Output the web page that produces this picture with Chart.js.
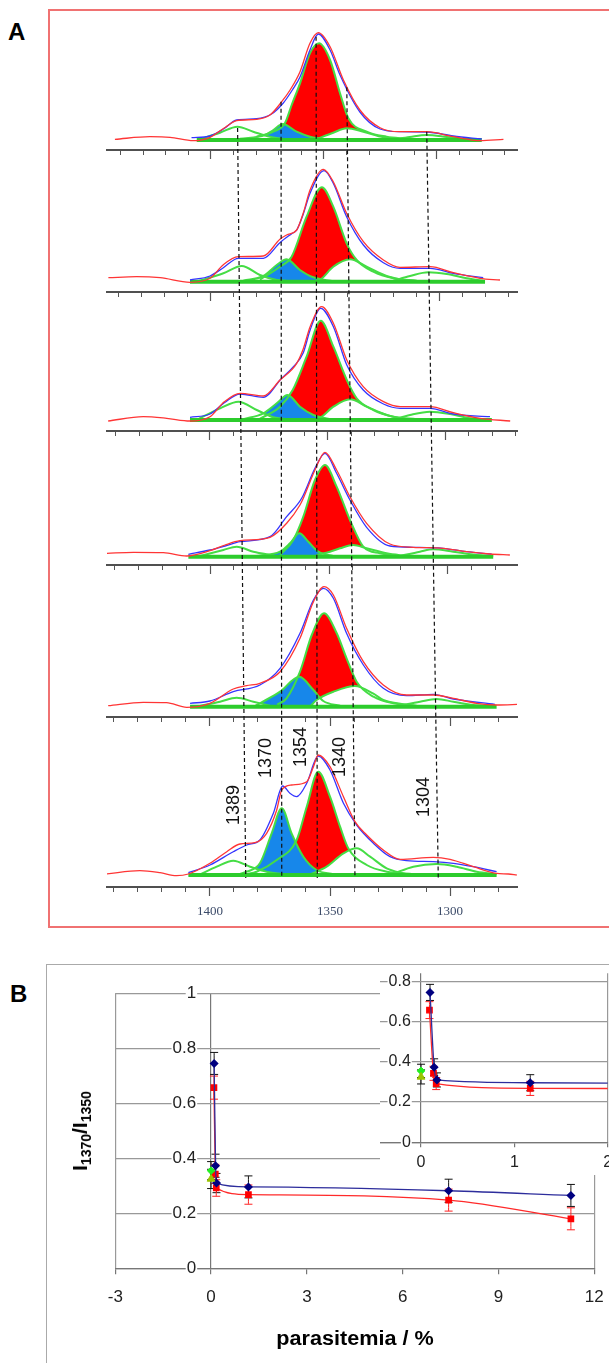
<!DOCTYPE html>
<html>
<head>
<meta charset="utf-8">
<script src="https://cdn.jsdelivr.net/npm/chart.js@4.4.1/dist/chart.umd.min.js"></script>
<style>
  html, body { margin: 0; padding: 0; background: #fff; }
  body { width: 609px; height: 1363px; position: relative; overflow: hidden; font-family: "Liberation Sans", Arial, sans-serif; }
  canvas { position: absolute; }
  .letra { position: absolute; font-weight: bold; font-size: 24px; line-height: 1; }
  .marcoA { position: absolute; left: 48px; top: 9px; width: 640px; height: 919px; border: 2px solid #f07272; box-sizing: border-box; }
  .marcoB { position: absolute; left: 46px; top: 964px; width: 640px; height: 440px; border: 1.5px solid #aaa; box-sizing: border-box; }
  .pico { position: absolute; font-size: 18px; line-height: 1; color: #111; white-space: nowrap; transform: translate(-50%, -50%) rotate(-90deg); }
  .fondoInserto { position: absolute; left: 380px; top: 966px; width: 240px; height: 209px; background: #fff; }
  .tituloY { position: absolute; left: 80px; top: 1131px; font-weight: bold; font-size: 21px; white-space: nowrap; transform: translate(-50%, -50%) rotate(-90deg); }
  .tituloY span { font-size: 14px; position: relative; top: 4px; }
  .tituloX { position: absolute; left: 355px; top: 1338px; font-weight: bold; font-size: 20px; white-space: nowrap; transform: translate(-50%, -50%) scaleX(1.08); }
</style>
</head>
<body>
<div class="marcoA"></div>
<div class="letra" style="left:8px;top:20px">A</div>
<canvas id="graficoEspectros" width="560" height="916" style="left:49px;top:10px"></canvas>
<div class="pico" style="left:233px;top:805px">1389</div>
<div class="pico" style="left:265px;top:758px">1370</div>
<div class="pico" style="left:300px;top:747px">1354</div>
<div class="pico" style="left:339px;top:757px">1340</div>
<div class="pico" style="left:423px;top:797px">1304</div>

<div class="marcoB"></div>
<div class="letra" style="left:10px;top:982px">B</div>
<canvas id="graficoRazon" width="640" height="423" style="left:0px;top:940px"></canvas>
<div class="fondoInserto"></div>
<canvas id="graficoInserto" width="260" height="225" style="left:380px;top:950px"></canvas>
<div class="tituloY">I<span>1370</span>/I<span>1350</span></div>
<div class="tituloX">parasitemia / %</div>

<script>
// ---------- Panel A: espectros (numero de onda cm-1, altura sobre el eje) ----------
// un arreglo de puntos por espectro, de arriba hacia abajo
const crudo = [
    [[1442.5,10.7],[1427,13.3],[1418.1,12.7],[1407.8,9.3],[1400.4,12.7],[1394.5,21.5],[1388.6,29.3],[1379.8,30.7],[1373.9,35],[1368.7,48.3],[1365,60],[1360.6,78.3],[1356.2,106.7],[1352.5,117.3],[1347.3,103.3],[1341.4,70],[1334.1,40],[1325.2,22.3],[1316.4,18.3],[1304.6,18.3],[1292.8,13.3],[1281,9.3],[1270.6,10.7]],
    [[1444.2,14],[1431.9,15],[1421.7,14],[1408.7,9.4],[1400,13.4],[1394.2,27],[1387.7,35],[1376.8,35.7],[1369.6,52.4],[1366.7,56.7],[1362.3,61.7],[1359.4,79],[1356.5,101.7],[1350.7,122.4],[1346.4,110],[1340.6,78.4],[1333.3,50],[1324.6,31.7],[1317.4,24.4],[1304.3,25],[1294.2,19],[1282.6,13.4],[1273.9,11.7]],
    [[1443.3,9.7],[1428.4,14],[1418.4,12.4],[1408.5,9.7],[1400,14],[1393.9,29],[1387.2,37.4],[1377.3,34.7],[1370.2,50.7],[1363.1,67.4],[1360.3,82],[1357.4,104],[1352.5,124],[1347.5,107.4],[1341.8,70.7],[1334.8,44],[1326.2,29],[1319.1,24],[1306.4,24],[1296.5,18],[1285.1,12.4],[1272.3,9.7]],
    [[1443.4,11.7],[1432.2,12.7],[1419.6,12.4],[1409.8,9],[1400,14.3],[1393.7,20],[1387.4,24.3],[1374.8,27.7],[1367.8,41.7],[1362.2,60],[1360.8,66.7],[1355.9,95],[1351.7,112.7],[1346.8,95],[1341.2,68.3],[1334.2,41.7],[1324.4,21],[1314.6,17.7],[1302,16.7],[1292.2,13.3],[1282.4,11],[1274,10]],
    [[1442.4,11],[1427.8,14.4],[1418.1,14],[1409.7,9.4],[1400,13.4],[1390.3,27.7],[1384.7,31],[1379.2,33.4],[1370.8,45],[1362.5,78.4],[1356.9,115],[1352.5,130],[1348.6,121.7],[1343.1,88.4],[1336.1,55],[1327.8,31.7],[1318.1,21.7],[1306.9,21.7],[1298.6,18.4],[1288.9,13.4],[1280.6,11.7],[1270.8,12.4]],
    [[1443.1,12.7],[1429.2,16],[1420.8,14],[1413.9,11],[1409,12.7],[1400,23.4],[1393,35],[1387.5,42.7],[1381.3,44],[1376.4,53.4],[1372.2,76.7],[1370.1,96.7],[1366,101.7],[1359.7,105],[1356.9,120],[1354.9,131.7],[1350,120],[1344.4,90],[1339.6,65],[1334.7,51.7],[1327.8,36.7],[1320.8,27.4],[1306.9,29.4],[1300,27.4],[1290.3,20],[1280.6,13.4],[1275.7,12.7],[1272.2,11.7]]
];

const ajuste = [
    [[1408.6,12.3],[1400.4,14],[1394.5,21],[1388.6,30],[1379.8,31.3],[1373.2,36],[1368,47],[1364,60],[1360.6,73],[1356.2,100],[1352.5,116],[1347.3,100],[1342.9,75],[1334.1,38],[1325.2,21],[1316.4,18.3],[1304.6,18],[1292.8,14],[1280.2,11]],
    [[1408.7,11.7],[1400,15.7],[1394.2,24],[1387.7,33.4],[1376.8,33.4],[1369.6,49],[1364.5,58],[1362.3,61.7],[1359.4,78],[1356.5,98.4],[1350.4,121],[1346.4,108.4],[1340.6,75],[1333.3,46.7],[1324.6,29],[1317.4,23.4],[1304.3,23.4],[1294.2,18.4],[1281.2,14]],
    [[1408.5,13.4],[1400,16.7],[1393.9,28],[1387.2,36.7],[1377.3,33.4],[1369.5,52.4],[1364.5,64],[1360.3,78],[1357.4,100.7],[1352.9,122.4],[1347.5,104],[1341.8,65.7],[1334.8,40.7],[1326.2,26.7],[1319.1,22.4],[1306.4,22.4],[1296.5,16.7],[1280.9,14]],
    [[1409.1,10.7],[1400,15],[1393.7,19],[1387.4,23.3],[1374.8,28.3],[1367.8,48.3],[1361.5,66.7],[1355.9,96.7],[1351.7,111.7],[1346.8,91.7],[1341.2,65],[1334.2,37.7],[1324.4,19],[1314.6,17.7],[1302,16.7],[1292.2,13.3],[1281.7,11]],
    [[1408.3,13.4],[1400,15.7],[1390.3,25],[1379.2,31.7],[1370.8,48.4],[1362.5,83.4],[1356.9,116.7],[1352.8,128.4],[1348.6,118.4],[1343.1,83.4],[1336.1,51.7],[1327.8,28.4],[1318.1,21],[1306.9,22.4],[1298.6,17.7],[1281.3,12.4]],
    [[1409,14],[1400,21.7],[1390.3,35],[1384.7,41.7],[1379.2,46.7],[1373.6,73.4],[1369.7,100.7],[1366.7,93.4],[1363.9,90],[1359.7,103.4],[1354.9,130.7],[1350,116.7],[1344.4,83.4],[1338.9,61.7],[1331.9,43.4],[1325,30],[1318.1,26],[1306.9,25],[1298.6,23.4],[1290.3,20],[1280.6,15]]
];

const banda1389 = [
    [[1406,10],[1396,17.3],[1388.3,23.3],[1381.3,18.3],[1373.9,13.3],[1366,10.5]],
    [[1405.8,10],[1394.2,18.4],[1386.2,25.7],[1378.3,16.7],[1371,11.7],[1364,10.3]],
    [[1405.7,10.7],[1395.7,22.4],[1387.9,29],[1380.1,20.7],[1373,13.4],[1365,11]],
    [[1404.2,9],[1394.4,15],[1388.8,18.3],[1381.8,13.3],[1373.4,9.5]],
    [[1404.2,10.7],[1395.8,15],[1388.9,19],[1381.9,15],[1375,11]],
    [[1404.2,12],[1397.2,20],[1390.3,26],[1383.3,20],[1376.4,15],[1368.1,12]]
];

const banda1370 = [
    [[1387.2,11.2],[1376.1,15],[1372.4,20],[1368.3,26],[1362.1,18.3],[1356.2,13.3],[1348.8,10.7]],
    [[1385.5,11],[1376.8,15.7],[1371,26.7],[1366.7,32.4],[1360.9,21.7],[1355.1,14.4],[1346.4,10.5]],
    [[1385.8,11.5],[1377.3,17.4],[1371.6,27.4],[1367,35.7],[1361.7,24],[1356,15.7],[1347.5,11]],
    [[1380.4,9],[1370.6,13.3],[1366.4,21.7],[1362.5,31.7],[1358.7,23.3],[1354.5,13.3],[1348.2,9]],
    [[1381,11],[1379.2,13.4],[1370.8,25],[1362.8,40],[1356.9,26.7],[1352.8,15.7],[1345.8,11]],
    [[1388,12.5],[1384.7,15],[1379.2,23.4],[1374.3,53.4],[1370.1,78.4],[1366,53.4],[1361.1,30],[1355.6,16.7],[1348.6,12.5]]
];

const banda1354 = [
    [[1379.8,13.3],[1372.4,18.3],[1367.3,26.7],[1364.3,45],[1360.6,66.7],[1356.2,96.7],[1352.2,106.7],[1347.3,90],[1342.9,56.7],[1339.2,31.7],[1331.1,18.3],[1322.3,13.3],[1313.4,11.3]],
    [[1378.3,12],[1369.6,25],[1364.5,35],[1358,75],[1351.4,104.4],[1346.4,85],[1340.6,48.4],[1336.2,31.7],[1329,20],[1320.3,13.4],[1310.1,11]],
    [[1378.7,12],[1370.2,24],[1364.8,40.7],[1358.9,74],[1352.9,110],[1347.5,84],[1341.8,50.7],[1337.6,32.4],[1330.5,20.7],[1322,14],[1312.1,11.5]],
    [[1370.6,10],[1365,25],[1360.8,48.3],[1355.9,85],[1351.7,100],[1346.8,78.3],[1341.2,45],[1335.6,18.3],[1328.6,11.7],[1320.2,9]],
    [[1372,12],[1368.1,18.4],[1362.5,45],[1357.6,81.7],[1352.5,103.4],[1347.2,83.4],[1343.1,58.4],[1338.9,35],[1331.9,20],[1323.6,13.4],[1313.9,11]],
    [[1385,12.5],[1380.6,15],[1372.2,26.7],[1363.9,46.7],[1359.7,80],[1354.9,115],[1350,90],[1345.8,60],[1342.4,38.4],[1334.7,21.7],[1326.4,15],[1315.3,12.5]]
];

const banda1340 = [
    [[1353.2,11],[1345.9,17.3],[1340,21.7],[1332.6,18.3],[1323.7,12.7],[1316.4,10.7]],
    [[1356,10.5],[1352.2,12],[1346.4,25],[1339.1,32.4],[1331.9,25],[1323.2,15.7],[1314.5,11]],
    [[1357,11],[1353.2,13],[1347.5,24],[1340.4,31.4],[1333.3,24],[1324.8,15.7],[1316.3,11.5]],
    [[1355.2,10],[1349.6,13.3],[1345.4,16.7],[1339.8,20],[1334.2,16.7],[1325.8,11.7],[1317.4,9]],
    [[1358,11],[1355.6,16.7],[1348.6,25],[1339.6,30.7],[1331.9,23],[1327.8,16.7],[1318.1,12]],
    [[1358,12.5],[1351.4,20],[1344.4,33.4],[1338.9,38.4],[1333.3,30],[1326.4,18.4],[1318.1,12.5]]
];

const banda1304 = [
    [[1319.3,10.5],[1312,13],[1304.6,15],[1295.7,13],[1286.9,10.5]],
    [[1320.3,11],[1313,15.7],[1305.1,19.4],[1297.1,17.7],[1288.4,13.4],[1281.2,11]],
    [[1322,11],[1314.9,15.7],[1306.4,19],[1297.9,16.7],[1289.4,12.4],[1280.9,11]],
    [[1320.2,9],[1311.8,13.3],[1306.2,15.7],[1297.8,13.3],[1288,10],[1281,9]],
    [[1320.8,11],[1312.5,15],[1305.6,17.7],[1298.6,15],[1290.3,11.7],[1281.9,11]],
    [[1323.6,13],[1315.3,20],[1305.6,22.7],[1297.2,20],[1288.9,15],[1280.6,12.5]]
];

// linea base de cada ajuste: [desde, hasta, altura]
const lineaBase = [[1406.3,1280.2,10],[1408.7,1280.4,10],[1408.5,1280.1,10.7],[1409.1,1281,8.3],[1408.3,1280.6,10],[1409,1280.6,11.7]];

// lineas guia punteadas (numero de onda en el espectro de arriba y en el de abajo)
const guiaArriba = [1388.5, 1370.4, 1355.8, 1343.0, 1309.7];
const guiaAbajo = [1385.1, 1370.1, 1355.3, 1339.6, 1304.9];
const guiaAltoArriba = [22, 48.3, 113.3, 62.7, 18.3];
const guiaAltoAbajo = 8.7;

// ---------- Panel B ----------
const parasitemiaAzul = [0.096, 0.14, 0.17, 1.17, 7.44, 11.27];
const razonAzul = [0.745, 0.373, 0.31, 0.296, 0.282, 0.265];
const errorAzul = [0.04, 0.042, 0.035, 0.04, 0.042, 0.04];
const parasitemiaRoja = [0.09, 0.133, 0.162, 1.17, 7.44, 11.27];
const razonRoja = [0.657, 0.343, 0.292, 0.268, 0.248, 0.18];
const errorRojo = [0.042, 0.035, 0.03, 0.035, 0.04, 0.04];
const control = [0, 0];
const razonControl = [0.355, 0.325];
const errorControl = [0.033, 0.035];

// posicion de cada eje del panel A (altura en el lienzo) y rango de numero de onda
const ejeBase = [776, 634.3, 495.3, 361, 209.3, 39.3];
const ejeMin = [1264.6, 1266.5, 1269.4, 1271.0, 1272.1, 1272.1];
const ejeMax = [1446.0, 1444.8, 1443.8, 1443.3, 1442.9, 1442.9];

Chart.defaults.font.family = "'Liberation Sans', Arial, sans-serif";

let datasetsA = [];
function agregar(ds) {
    ds.order = -datasetsA.length;
    datasetsA.push(ds);
}

function puntos(lista, k) {
    return lista.map(p => ({ x: p[0], y: ejeBase[k] + p[1] }));
}

function cargarEspectro(k) {
    const eje = "x" + (k + 1);
    const base = ejeBase[k] + lineaBase[k][2];
    const rellenos = [[banda1354, "#ff0000"], [banda1370, "#1787ea"], [banda1389, "#ffffff"], [banda1340, "#ffffff"], [banda1304, "#ffffff"]];

    rellenos.forEach(([banda, color]) => {
        agregar({ data: puntos(banda[k], k), xAxisID: eje, borderWidth: 0, borderColor: color, backgroundColor: color, fill: { value: base } });
    });
    [banda1389, banda1370, banda1354, banda1340, banda1304].forEach(banda => {
        agregar({ data: puntos(banda[k], k), xAxisID: eje, borderColor: "#45dd45", borderWidth: 2 });
    });
    agregar({ data: [{ x: lineaBase[k][0], y: base }, { x: lineaBase[k][1], y: base }], xAxisID: eje, borderColor: "#2ccc2c", borderWidth: 4 });
    agregar({ data: puntos(ajuste[k], k), xAxisID: eje, borderColor: "#3535ff", borderWidth: 1.3 });
    agregar({ data: puntos(crudo[k], k), xAxisID: eje, borderColor: "#ff3535", borderWidth: 1.3 });
}

for (let k = 0; k < 6; k++) cargarEspectro(k);

guiaArriba.forEach((w, i) => {
    agregar({
        data: [{ x: w, y: ejeBase[0] + guiaAltoArriba[i] }, { x: guiaAbajo[i], y: ejeBase[5] + guiaAltoAbajo }],
        xAxisID: "x6", borderColor: "#111", borderWidth: 1.2, borderDash: [4, 3]
    });
});

let escalasA = { y: { type: "linear", display: false, min: 0, max: 916 } };
for (let k = 0; k < 6; k++) {
    escalasA["x" + (k + 1)] = {
        type: "linear", axis: "x", reverse: true, min: ejeMin[k], max: ejeMax[k], position: { y: ejeBase[k] },
        grid: { drawOnChartArea: false, drawTicks: true, tickLength: 4, tickColor: "#555", tickWidth: 1 },
        border: { display: true, color: "#505050", width: 2 },
        ticks: { display: false, stepSize: 10, includeBounds: false }
    };
    escalasA["xM" + (k + 1)] = {
        type: "linear", axis: "x", reverse: true, min: ejeMin[k], max: ejeMax[k], position: { y: ejeBase[k] },
        grid: { drawOnChartArea: false, drawTicks: true, tickLength: 9, tickColor: "#555", tickWidth: 1.2 },
        border: { display: false },
        ticks: {
            display: k === 5, stepSize: 50, includeBounds: false, padding: 8, color: "#3b4a68",
            font: { family: "'Liberation Serif', serif", size: 13 },
            callback: valor => String(valor)
        }
    };
}

new Chart(document.getElementById("graficoEspectros"), {
    type: "line",
    data: { datasets: datasetsA },
    options: {
        responsive: false,
        animation: false,
        events: [],
        layout: { padding: { left: 58, right: 92, top: 0, bottom: 0 }, autoPadding: false },
        plugins: { legend: { display: false }, tooltip: { enabled: false } },
        elements: { point: { radius: 0 }, line: { cubicInterpolationMode: "monotone", fill: false } },
        scales: escalasA
    }
});

// ---------- graficos del panel B ----------
function barraError(x, y, e, color) {
    return {
        data: [{ x: x, y: y - e }, { x: x, y: y + e }],
        borderColor: color, borderWidth: 1, showLine: true,
        pointStyle: "line", pointRadius: 4, pointBorderColor: color, pointBorderWidth: 1
    };
}

function datasetsB() {
    let ds = [];
    const poner = d => { d.order = -ds.length; ds.push(d); };

    parasitemiaAzul.forEach((x, i) => poner(barraError(x, razonAzul[i], errorAzul[i], "#111")));
    parasitemiaRoja.forEach((x, i) => poner(barraError(x, razonRoja[i], errorRojo[i], "#ff2020")));
    control.forEach((x, i) => poner(barraError(x, razonControl[i], errorControl[i], "#111")));

    poner({
        data: parasitemiaRoja.map((x, i) => ({ x: x, y: razonRoja[i] })),
        borderColor: "#ff2a2a", borderWidth: 1.3, pointStyle: "rect", pointRadius: 3.8,
        pointBackgroundColor: "#ff0000", pointBorderColor: "#ff0000"
    });
    poner({
        data: parasitemiaAzul.map((x, i) => ({ x: x, y: razonAzul[i] })),
        borderColor: "#2d2d9c", borderWidth: 1.3, pointStyle: "rectRot", pointRadius: 3.6,
        pointBackgroundColor: "#000080", pointBorderColor: "#000080"
    });
    poner({
        data: [{ x: control[0], y: razonControl[0] }], showLine: false,
        pointStyle: "rectRot", pointRadius: 3.8, pointBackgroundColor: "#22ee22", pointBorderColor: "#22ee22"
    });
    poner({
        data: [{ x: control[1], y: razonControl[1] }], showLine: false,
        pointStyle: "triangle", pointRadius: 4.5, pointBackgroundColor: "#99c400", pointBorderColor: "#99c400"
    });
    return ds;
}

function crearPanelB(id, cfg) {
    new Chart(document.getElementById(id), {
        type: "line",
        data: { datasets: datasetsB() },
        options: {
            responsive: false,
            animation: false,
            events: [],
            layout: { padding: cfg.padding, autoPadding: false },
            plugins: { legend: { display: false }, tooltip: { enabled: false } },
            elements: { line: { cubicInterpolationMode: "monotone", fill: false } },
            scales: {
                x: {
                    type: "linear", min: cfg.xMin, max: cfg.xMax, position: { y: 0 },
                    ticks: { stepSize: cfg.xPaso, includeBounds: false, color: "#222", font: { size: cfg.letra }, padding: cfg.xPad,
                        callback: valor => String(valor) },
                    grid: {
                        color: c => (c.tick && cfg.xLineas.includes(c.tick.value)) ? (c.tick.value === 0 ? "#777" : "#999") : "rgba(0,0,0,0)",
                        lineWidth: 1.2, drawTicks: true, tickLength: cfg.xTick, tickColor: "#777"
                    },
                    border: { display: true, color: "#777", width: 1.2 }
                },
                y: {
                    type: "linear", min: 0, max: cfg.yMax, position: { x: cfg.xEtiquetas },
                    ticks: { stepSize: 0.2, includeBounds: false, color: "#222", font: { size: cfg.letra },
                        showLabelBackdrop: true, backdropColor: "#ffffff", backdropPadding: { x: 1, y: 0 },
                        callback: valor => String(Math.round(valor * 10) / 10) },
                    grid: { color: "#999", lineWidth: 1.2, drawTicks: false },
                    border: { display: false }
                }
            }
        }
    });
}

crearPanelB("graficoRazon", {
    padding: { left: 115.3, right: 45.8, top: 53.3, bottom: 94.7 },
    xMin: -3, xMax: 12, xPaso: 3, xLineas: [-3, 0, 12], xTick: 5, xPad: 14,
    yMax: 1, xEtiquetas: -0.467, letra: 17
});

crearPanelB("graficoInserto", {
    padding: { left: 0, right: 32.3, top: 23.3, bottom: 32.7 },
    xMin: -0.44, xMax: 2, xPaso: 1, xLineas: [0, 2], xTick: 4, xPad: 7,
    yMax: 0.84, xEtiquetas: -0.11, letra: 16
});
</script>
</body>
</html>
